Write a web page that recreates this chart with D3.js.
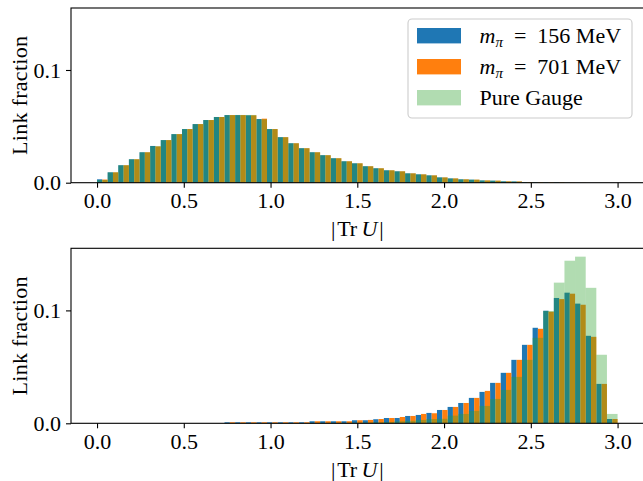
<!DOCTYPE html>
<html>
<head>
<meta charset="utf-8">
<script src="https://cdn.jsdelivr.net/npm/d3@7"></script>
<style>
  body { margin: 0; background: #fff; }
  svg { display: block; font-family: "Liberation Serif", "Times New Roman", serif; }
  text { fill: #000; }
</style>
</head>
<body>
<div id="chart"></div>
<script>
// histogram bin edges: 49 bins on [0, 3]
const nBins = 49;
const binEdges = d3.range(nBins + 1).map(i => i * 3 / nBins);

const xTicks = [0.0, 0.5, 1.0, 1.5, 2.0, 2.5, 3.0];
const yTicks = [0.0, 0.1];
const seriesNames = ['156 MeV', '701 MeV', 'Pure Gauge'];

// top panel
const topBlue = [0.0030, 0.0092, 0.0155, 0.0208, 0.0270, 0.0326, 0.0378, 0.0431, 0.0476, 0.0520,
  0.0556, 0.0583, 0.0600, 0.0600, 0.0598, 0.0565, 0.0476, 0.0404, 0.0350, 0.0306,
  0.0270, 0.0244, 0.0217, 0.0190, 0.0172, 0.0146, 0.0128, 0.0110, 0.0101, 0.0083,
  0.0074, 0.0065, 0.0047, 0.0038, 0.0030, 0.0027, 0.0020, 0.0018, 0.0012, 0.0011,
  0.0006, 0.0005, 0.0004, 0.0004, 0.0002, 0.0001, 0, 0, 0];
const topOrange = [0.0028, 0.0092, 0.0155, 0.0208, 0.0270, 0.0322, 0.0378, 0.0431, 0.0476, 0.0520,
  0.0556, 0.0583, 0.0600, 0.0600, 0.0598, 0.0568, 0.0476, 0.0404, 0.0350, 0.0306,
  0.0270, 0.0244, 0.0217, 0.0190, 0.0172, 0.0146, 0.0128, 0.0110, 0.0101, 0.0083,
  0.0074, 0.0065, 0.0047, 0.0038, 0.0030, 0.0027, 0.0020, 0.0018, 0.0012, 0.0011,
  0.0006, 0.0005, 0.0004, 0.0004, 0.0002, 0.0001, 0, 0, 0];
const topGauge = [0.0024, 0.0092, 0.0155, 0.0208, 0.0270, 0.0324, 0.0378, 0.0431, 0.0476, 0.0520,
  0.0556, 0.0583, 0.0600, 0.0601, 0.0601, 0.0562, 0.0476, 0.0404, 0.0350, 0.0306,
  0.0270, 0.0244, 0.0217, 0.0190, 0.0172, 0.0146, 0.0128, 0.0110, 0.0101, 0.0083,
  0.0074, 0.0065, 0.0047, 0.0038, 0.0030, 0.0027, 0.0020, 0.0018, 0.0012, 0.0011,
  0.0006, 0.0005, 0.0004, 0.0004, 0.0002, 0.0001, 0, 0, 0];

// bottom panel
const botBlue = [0, 0, 0, 0, 0, 0, 0, 0, 0, 0,
  0, 0, 0.0009, 0.0009, 0.0009, 0.0009, 0.0009, 0.0009, 0.0009, 0.0009,
  0.0018, 0.0018, 0.0018, 0.0018, 0.0027, 0.0027, 0.0036, 0.0047, 0.0047, 0.0065,
  0.0074, 0.0092, 0.0118, 0.0145, 0.0180, 0.0225, 0.0278, 0.0358, 0.0447, 0.0562,
  0.0695, 0.0846, 0.0997, 0.1110, 0.1157, 0.1060, 0.0775, 0.0349, 0.0038];
const botOrange = [0, 0, 0, 0, 0, 0, 0, 0, 0, 0,
  0, 0, 0.0009, 0.0009, 0.0009, 0.0009, 0.0009, 0.0009, 0.0009, 0.0009,
  0.0018, 0.0018, 0.0018, 0.0018, 0.0027, 0.0030, 0.0038, 0.0047, 0.0056, 0.0065,
  0.0083, 0.0089, 0.0118, 0.0145, 0.0180, 0.0225, 0.0287, 0.0358, 0.0447, 0.0562,
  0.0695, 0.0837, 0.0988, 0.1100, 0.1148, 0.1050, 0.0766, 0.0349, 0.0038];
const botGauge = [0, 0, 0, 0, 0, 0, 0, 0, 0, 0,
  0, 0, 0.0002, 0.0002, 0.0002, 0.0002, 0.0002, 0.0002, 0.0002, 0.0002,
  0.0004, 0.0004, 0.0004, 0.0004, 0.0006, 0.0007, 0.0009, 0.0012, 0.0018, 0.0022,
  0.0030, 0.0038, 0.0040, 0.0068, 0.0083, 0.0110, 0.0154, 0.0216, 0.0296, 0.0411,
  0.0562, 0.0757, 0.0995, 0.1246, 0.1440, 0.1476, 0.1200, 0.0607, 0.0083];

const W = 643, H = 481;
const blue = '#1f77b4', orange = '#ff7f0e', green = '#2ca02c';
const gaugeAlpha = 0.37;
const fs = 22;

const svg = d3.select('#chart').append('svg')
  .attr('width', W).attr('height', H);

const x = d3.scaleLinear().domain([-0.15, 3.15]).range([71, 643.6]);

function drawPanel(top, bottom, blueVals, orangeVals, gaugeVals, withLegend) {
  const y = d3.scaleLinear().domain([0, 0.155]).range([bottom, top]);
  const g = svg.append('g');

  const bins = d3.range(nBins);
  // blue: left half of each bin, orange: right half
  g.selectAll('.b').data(bins).enter().append('rect')
    .attr('x', i => x(binEdges[i]))
    .attr('width', i => (x(binEdges[i + 1]) - x(binEdges[i])) / 2)
    .attr('y', i => y(blueVals[i]))
    .attr('height', i => y(0) - y(blueVals[i]))
    .attr('fill', blue);
  g.selectAll('.o').data(bins).enter().append('rect')
    .attr('x', i => (x(binEdges[i]) + x(binEdges[i + 1])) / 2)
    .attr('width', i => (x(binEdges[i + 1]) - x(binEdges[i])) / 2)
    .attr('y', i => y(orangeVals[i]))
    .attr('height', i => y(0) - y(orangeVals[i]))
    .attr('fill', orange);
  g.selectAll('.p').data(bins).enter().append('rect')
    .attr('x', i => x(binEdges[i]))
    .attr('width', i => x(binEdges[i + 1]) - x(binEdges[i]))
    .attr('y', i => y(gaugeVals[i]))
    .attr('height', i => y(0) - y(gaugeVals[i]))
    .attr('fill', green)
    .attr('fill-opacity', gaugeAlpha);

  // axes
  const xAxis = d3.axisBottom(x).tickValues(xTicks).tickFormat(d3.format('.1f'))
    .tickSize(5).tickPadding(5).tickSizeOuter(0);
  const yAxis = d3.axisLeft(y).tickValues(yTicks).tickFormat(d3.format('.1f'))
    .tickSize(5).tickPadding(5).tickSizeOuter(0);

  const gx = g.append('g').attr('transform', `translate(0,${bottom})`).call(xAxis);
  const gy = g.append('g').attr('transform', `translate(${x.range()[0]},0)`).call(yAxis);
  [gx, gy].forEach(a => {
    a.select('.domain').remove();
    a.selectAll('line').attr('stroke', '#000').attr('stroke-width', 1.1);
    a.selectAll('text').attr('fill', '#000')
      .style('font-size', fs + 'px')
      .style('font-family', '"Liberation Serif", serif');
  });

  // spines
  g.append('rect')
    .attr('x', x.range()[0]).attr('y', top)
    .attr('width', x.range()[1] - x.range()[0]).attr('height', bottom - top)
    .attr('fill', 'none').attr('stroke', '#000').attr('stroke-width', 1.1);

  // x label |Tr U|
  const xl = g.append('text')
    .attr('x', (x.range()[0] + x.range()[1]) / 2)
    .attr('y', bottom + 53.5)
    .attr('text-anchor', 'middle')
    .attr('fill', '#000')
    .style('font-size', fs + 'px');
  xl.append('tspan').attr('fill', '#000').text('|\u200aTr\u2009');
  xl.append('tspan').attr('fill', '#000').attr('font-style', 'italic').text('U');
  xl.append('tspan').attr('fill', '#000').text('\u200a|');

  // y label
  g.append('text')
    .attr('transform', `translate(26.5,${(top + bottom) / 2}) rotate(-90)`)
    .attr('text-anchor', 'middle')
    .style('font-size', fs + 'px')
    .style('letter-spacing', '0.3px')
    .text('Link fraction');

  if (withLegend) {
    const lg = g.append('g');
    lg.append('rect')
      .attr('x', 408).attr('y', 19).attr('width', 224).attr('height', 99)
      .attr('rx', 4).attr('fill', '#fff').attr('fill-opacity', 0.8)
      .attr('stroke', '#cccccc').attr('stroke-width', 1.1);
    const swatches = [
      { c: blue, a: 1 }, { c: orange, a: 1 }, { c: green, a: gaugeAlpha }
    ];
    swatches.forEach((s, i) => {
      const cy = 35.7 + i * 31;
      lg.append('rect')
        .attr('x', 417).attr('y', cy - 7.7).attr('width', 44).attr('height', 15.4)
        .attr('fill', s.c).attr('fill-opacity', s.a);
      const t = lg.append('text')
        .attr('x', 479.5).attr('y', cy + 7.5)
        .style('font-size', fs + 'px');
      if (i < 2) {
        t.append('tspan').attr('font-style', 'italic').text('m');
        t.append('tspan').attr('font-style', 'italic')
          .attr('font-size', '15px').attr('dy', 4).text('\u03c0');
        t.append('tspan').attr('dy', -4).text('\u2002=\u2002' + seriesNames[i]);
      } else {
        t.text(seriesNames[i]);
      }
    });
  }
}

drawPanel(8, 182.7, topBlue, topOrange, topGauge, true);
drawPanel(248.3, 423.3, botBlue, botOrange, botGauge, false);
</script>
</body>
</html>
